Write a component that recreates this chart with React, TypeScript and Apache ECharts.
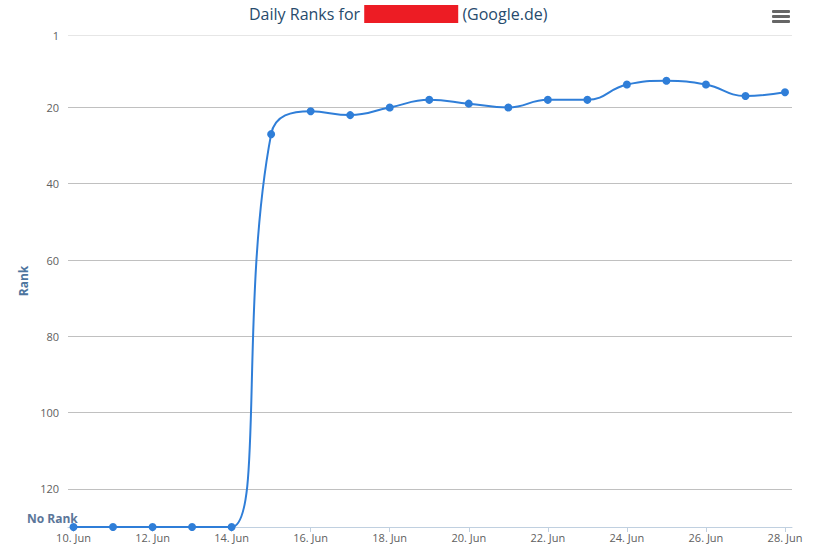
import React, { useEffect, useRef } from "react";
import * as echarts from "echarts";

const days = [10, 11, 12, 13, 14, 15, 16, 17, 18, 19, 20, 21, 22, 23, 24, 25, 26, 27, 28];
const ranks = [130, 130, 130, 130, 130, 27, 21, 22, 20, 18, 19, 20, 18, 18, 14, 13, 14, 17, 16];
const xTickDays = [10, 12, 14, 16, 18, 20, 22, 24, 26, 28];
const yTickLabels = [1, 20, 40, 60, 80, 100, 120];
const yGridValues = [1, 20, 40, 60, 80, 100, 120, 130];
const NO_RANK = 130;
const monthLabel = "Jun";
const titleBefore = "Daily Ranks for";
const titleAfter = "(Google.de)";

const FONT = "'Open Sans', 'Noto Sans', sans-serif";

export default function App() {
  const ref = useRef<HTMLDivElement>(null);
  useEffect(() => {
    if (!ref.current) return;
    const chart = echarts.init(ref.current, null, { renderer: "svg" });
    chart.setOption({
      animation: false,
      backgroundColor: "#ffffff",
      textStyle: { fontFamily: FONT },
      title: {
        text: `${titleBefore} {r|} ${titleAfter}`,
        left: 244,
        top: 0,
        textStyle: {
          fontFamily: FONT,
          fontSize: 16,
          fontWeight: "normal",
          color: "#274b6d",
          rich: {
            r: { backgroundColor: "#ed1c24", width: 94, height: 18 },
          },
        },
      },
      grid: { left: 68, right: 43, top: 35, bottom: 26, containLabel: false },
      xAxis: {
        type: "value",
        min: 9.861,
        max: 28.177,
        axisLine: { show: true, lineStyle: { color: "#c0d0e0", width: 1 } },
        axisTick: {
          show: true,
          length: 5,
          lineStyle: { color: "#c0d0e0" },
          customValues: xTickDays,
        },
        axisLabel: {
          customValues: xTickDays,
          formatter: (v: number) => `${v}. ${monthLabel}`,
          color: "#606060",
          fontSize: 11,
          fontFamily: FONT,
          margin: 5,
        },
        splitLine: { show: false },
      },
      yAxis: {
        type: "value",
        inverse: true,
        min: 1,
        max: NO_RANK,
        name: "Rank",
        nameLocation: "middle",
        nameGap: 38,
        nameTextStyle: { color: "#4d759e", fontWeight: "bold", fontSize: 12, fontFamily: FONT },
        axisLine: { show: false },
        axisTick: { show: false, customValues: yGridValues },
        axisLabel: {
          customValues: yTickLabels,
          color: "#606060",
          fontSize: 11,
          fontFamily: FONT,
          margin: 9,
        },
        splitLine: {
          show: true,
          lineStyle: {
            color: ["#e6e6e6", "#c0c0c0", "#c0c0c0", "#c0c0c0", "#c0c0c0", "#c0c0c0", "#c0c0c0", "#c0d0e0"],
            width: 1,
          },
        },
      },
      graphic: [
        {
          type: "text",
          left: 27,
          top: 512,
          style: {
            text: "No Rank",
            fill: "#5b7699",
            font: `bold 12px ${FONT}`,
          },
          z: 10,
        },
        { type: "rect", shape: { x: 772, y: 10, width: 18, height: 3, r: 1 }, style: { fill: "#666666" } },
        { type: "rect", shape: { x: 772, y: 15, width: 18, height: 3, r: 1 }, style: { fill: "#666666" } },
        { type: "rect", shape: { x: 772, y: 20, width: 18, height: 3, r: 1 }, style: { fill: "#666666" } },
      ],
      series: [
        {
          type: "line",
          data: days.map((d, i) => [d, ranks[i]]),
          smooth: 0.45,
          symbol: "circle",
          symbolSize: 8,
          itemStyle: { color: "#2f7ed8" },
          lineStyle: { color: "#2f7ed8", width: 2 },
          z: 5,
        },
      ],
    });
    return () => chart.dispose();
  }, []);
  return (
    <div
      ref={ref}
      style={{ position: "fixed", left: 0, top: 0, width: 835, height: 553 }}
    />
  );
}
